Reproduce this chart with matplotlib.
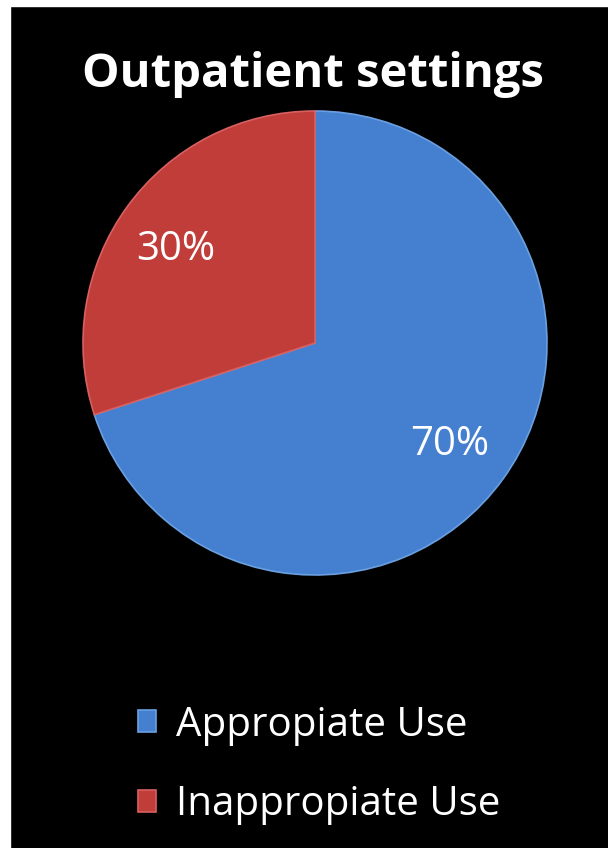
import matplotlib.pyplot as plt
from matplotlib.patches import Rectangle

labels = ['Appropiate Use', 'Inappropiate Use']
values = [70, 30]
colors = ['#4580d0', '#c03d3a']

W, H = 608, 848
fig = plt.figure(figsize=(W / 100, H / 100), dpi=100, facecolor='black')
plt.rcParams['font.family'] = ['Open Sans', 'DejaVu Sans']

# white strip on the left and top edges
fig.patches.append(Rectangle((0, 0), 10 / W, 1, transform=fig.transFigure, color='white', zorder=0))
fig.patches.append(Rectangle((0, 1 - 6 / H), 1, 6 / H, transform=fig.transFigure, color='white', zorder=0))

# pie centred at (315, 343) px, radius ~232 px
r = 232
cx, cy = 315, 343
ax = fig.add_axes([(cx - r) / W, 1 - (cy + r) / H, 2 * r / W, 2 * r / H])
ax.set_facecolor('black')
wedges, _ = ax.pie(values, colors=colors, startangle=90, counterclock=False,
                   wedgeprops=dict(edgecolor='#6aa0e0', linewidth=1.2))
wedges[1].set_edgecolor('#d86060')
ax.set_xlim(-1, 1)
ax.set_ylim(-1, 1)
ax.set_aspect('equal')

ax.text(0.58, -0.44, '70%', color='white', fontsize=29, ha='center', va='center')
ax.text(-0.60, 0.40, '30%', color='white', fontsize=29, ha='center', va='center')

fig.text(313 / W, 1 - 74 / H, 'Outpatient settings', color='white', fontsize=34,
         fontweight='bold', ha='center', va='center')

fig.legend(wedges, labels, loc='upper left', bbox_to_anchor=(138 / W, 1 - 705 / H),
           frameon=False, fontsize=29, labelcolor='white', handlelength=0.45,
           handleheight=0.45, handletextpad=0.5, labelspacing=0.97,
           borderpad=0, borderaxespad=0)

fig.savefig('out.png', dpi=100, facecolor='black')
